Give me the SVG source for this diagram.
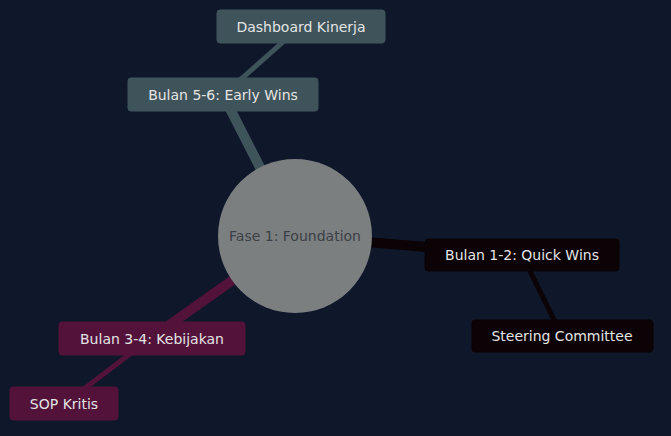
<svg xmlns="http://www.w3.org/2000/svg" width="671" height="436" viewBox="0 0 671 436">
<style>
text{font-family:"DejaVu Sans","Liberation Sans",sans-serif;font-size:14px;text-anchor:middle;dominant-baseline:central;fill:#e4e4e4}
.edge{fill:none;stroke-linecap:butt}
.thick{stroke-width:10}
.thin{stroke-width:5}
.c1{fill:#3f545a;stroke:#3f545a}
.c2{fill:#0b0305;stroke:#0b0305}
.c3{fill:#52123a;stroke:#52123a}
</style>
<rect width="671" height="436" fill="#0f182b"/>
<g id="connectors">
<line class="edge thick c1" x1="295" y1="236" x2="223" y2="95"/>
<line class="edge thin c1" x1="301" y1="26" x2="223" y2="95"/>
<line class="edge thick c2" x1="295" y1="236" x2="522" y2="255"/>
<line class="edge thin c2" x1="522" y1="255" x2="562" y2="336"/>
<line class="edge thick c3" x1="295" y1="236" x2="151" y2="338"/>
<line class="edge thin c3" x1="151" y1="338" x2="64" y2="404"/>
</g>
<g id="root">
<circle cx="295" cy="236" r="77" fill="#7b7f80"/>
<text x="295" y="236" style="fill:#3c4045">Fase 1: Foundation</text>
</g>
<g id="dashboard">
<rect class="c1" x="217" y="10" width="168" height="33" rx="3" stroke="none"/>
<text x="301" y="26.5">Dashboard Kinerja</text>
</g>
<g id="bulan56">
<rect class="c1" x="128" y="78" width="190" height="33" rx="3" stroke="none"/>
<text x="223" y="94.5">Bulan 5-6: Early Wins</text>
</g>
<g id="bulan12">
<rect class="c2" x="425" y="239" width="194" height="32" rx="3" stroke="none"/>
<text x="522" y="255">Bulan 1-2: Quick Wins</text>
</g>
<g id="steering">
<rect class="c2" x="472" y="320" width="181" height="32" rx="3" stroke="none"/>
<text x="562" y="336">Steering Committee</text>
</g>
<g id="bulan34">
<rect class="c3" x="59" y="322" width="186" height="33" rx="3" stroke="none"/>
<text x="152" y="338.5">Bulan 3-4: Kebijakan</text>
</g>
<g id="sop">
<rect class="c3" x="10" y="387" width="108" height="33" rx="3" stroke="none"/>
<text x="64" y="403.5">SOP Kritis</text>
</g>
</svg>
